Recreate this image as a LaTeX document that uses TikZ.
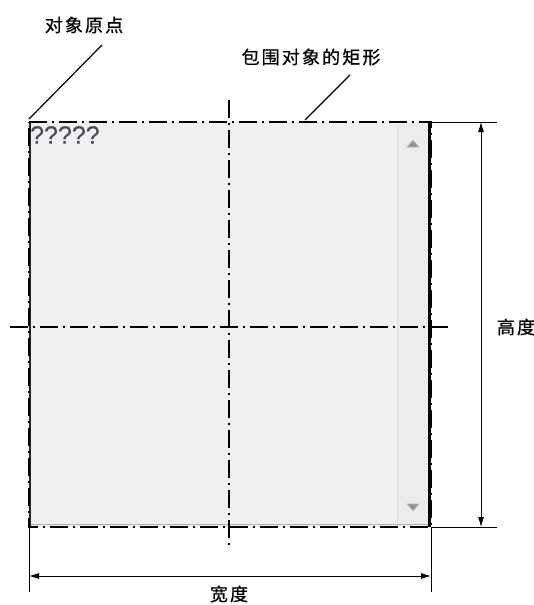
\documentclass[tikz,border=0pt]{standalone}
\usepackage{fontspec}
\setmainfont{Liberation Sans}
\newfontfamily\cjk[LetterSpace=12,FakeBold=0.7]{Noto Sans CJK SC}
\newfontfamily\qfont[FakeBold=0.3]{Liberation Sans}
\usetikzlibrary{arrows.meta}
\definecolor{boxfill}{HTML}{F0F0F0}
\definecolor{scrollfill}{HTML}{ECECEC}
\definecolor{scrollsep}{HTML}{E0E0E0}
\definecolor{qcol}{HTML}{4A4A5E}
\tikzset{
  centerline/.style={line width=1.3pt, dash pattern=on 18pt off 5pt on 2pt off 5pt},
  boundline/.style={line width=1.3pt, dash pattern=on 18pt off 5pt on 2pt off 5pt},
  extline/.style={line width=0.8pt},
  dimline/.style={line width=0.9pt, {Latex[length=10pt,width=6pt]}-{Latex[length=10pt,width=6pt]}},
  leader/.style={line width=1.2pt},
  lbl/.style={font=\cjk\fontsize{18}{20}\selectfont, inner sep=0pt},
  scrollarrow/.style={fill=gray!85, draw=gray!60, line width=0.6pt}
}
\begin{document}
\begin{tikzpicture}[x=1pt,y=-1pt]
\useasboundingbox (0,0) rectangle (534,605);
% box corners
\coordinate (tl) at (29,122);
\coordinate (tr) at (431,122);
\coordinate (bl) at (29,527);
\coordinate (br) at (431,527);
% window body
\fill[boxfill] (29,122) rectangle (431,527);
\fill[scrollfill] (397,124) rectangle (429,525);
\draw[scrollsep, line width=1pt] (397.5,124) -- (397.5,525);
\draw[gray!60, line width=1pt] (29,524) -- (430,524);
\draw[black!85, line width=2pt] (30,122) -- (30,527);
\draw[black, line width=2.5pt] (429.5,122) -- (429.5,527);
% scroll arrows
\fill[scrollarrow] (407,147) -- (419,147) -- (413,140.5) -- cycle;
\fill[scrollarrow] (407,504) -- (419,504) -- (413,510.5) -- cycle;
% placeholder text
\node[anchor=north west, inner sep=0pt, text=qcol, font=\qfont\fontsize{25}{26}\selectfont] (qq) at (30,126) {?????};
% bounding rectangle (dash-dot)
\draw[boundline] (tl) -- (tr) -- (br) -- (bl) -- cycle;
% center lines
\coordinate (vc1) at (229,100);
\coordinate (vc2) at (229,548);
\coordinate (hc1) at (10,327);
\coordinate (hc2) at (452,327);
\draw[centerline] (vc1) -- (vc2);
\draw[centerline] (hc1) -- (hc2);
% height dimension
\coordinate (he1) at (497,122);
\coordinate (he2) at (497,527);
\coordinate (ha1) at (481,122);
\coordinate (ha2) at (481,527);
\draw[extline] (tr) -- (he1);
\draw[extline] (br) -- (he2);
\draw[dimline] (ha1) -- (ha2);
\node[lbl] (hlabel) at (516,327) {高度};
% width dimension
\coordinate (we1) at (29,592);
\coordinate (we2) at (431,592);
\coordinate (wa1) at (29,576);
\coordinate (wa2) at (431,576);
\draw[extline] (bl) -- (we1);
\draw[extline] (br) -- (we2);
\draw[dimline] (wa1) -- (wa2);
\node[lbl] (wlabel) at (229,594) {宽度};
% leaders
\node[lbl] (origin) at (84,25) {对象原点};
\coordinate (o1) at (102,45);
\draw[leader] (o1) -- (29,119);
\node[lbl] (rectl) at (311,57) {包围对象的矩形};
\coordinate (r1) at (350,75);
\coordinate (r2) at (305,120);
\draw[leader] (r1) -- (r2);
\end{tikzpicture}
\end{document}
